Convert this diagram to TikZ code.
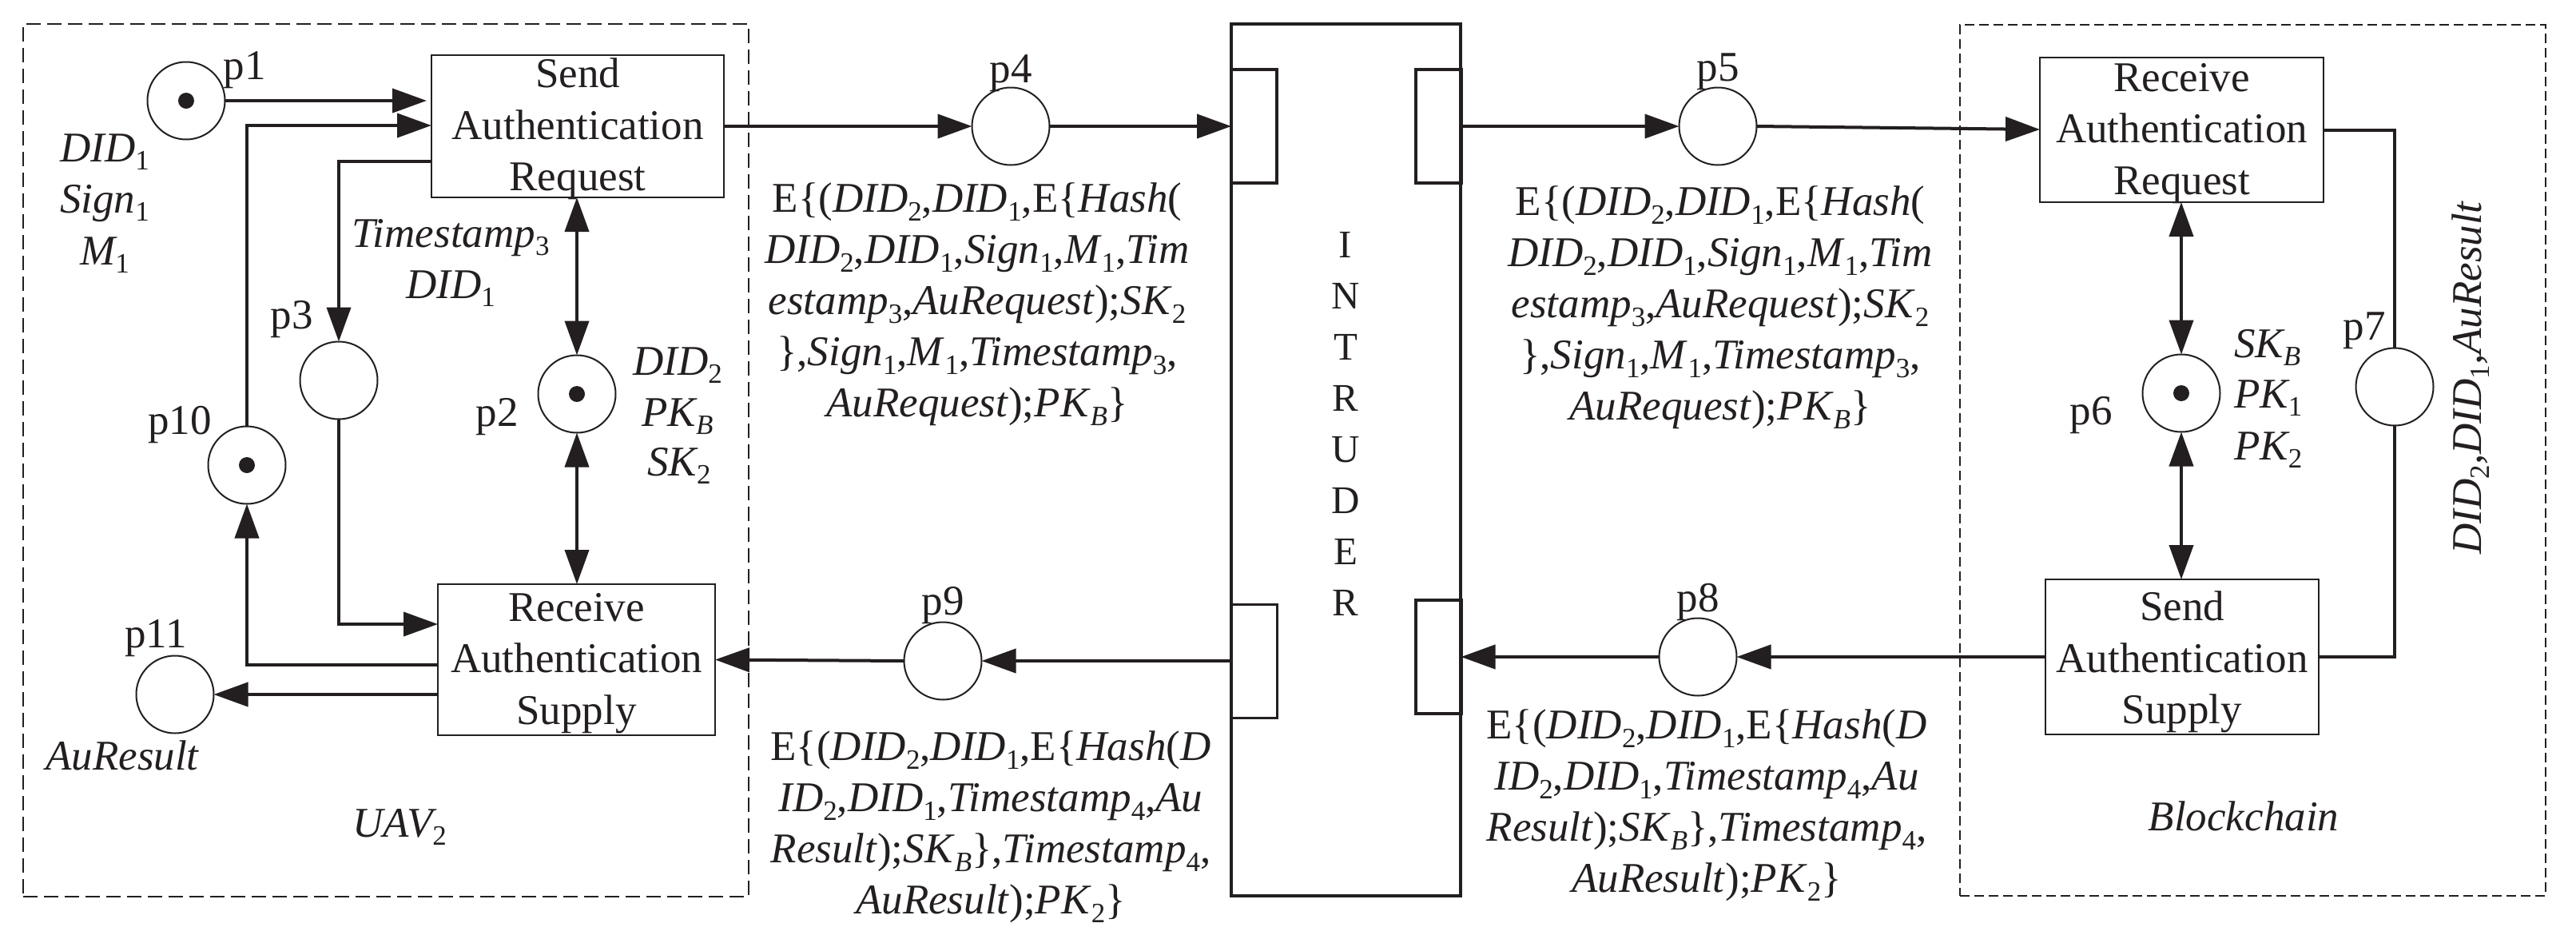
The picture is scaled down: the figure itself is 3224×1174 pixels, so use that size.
\documentclass[tikz,border=0pt]{standalone}
\usepackage{fontspec}
\setmainfont{Liberation Serif}
\usetikzlibrary{arrows.meta}
\definecolor{ink}{HTML}{231F20}
\newcommand\subd[1]{\raisebox{-0.2em}{\fontsize{17.5}{17.5}\selectfont\upshape #1}}
\newcommand\subi[1]{\raisebox{-0.2em}{\fontsize{17.5}{17.5}\selectfont\itshape #1}}
\newcommand\vi[1]{\textit{#1}}
\newcommand\msgA{E\{(\vi{DID}\subd{2},\vi{DID}\subd{1},E\{\vi{Hash}(\\
\vi{DID}\subd{2},\vi{DID}\subd{1},\vi{Sign}\subd{1},\vi{M}\subd{1},\vi{Tim}\\
\vi{estamp}\subd{3},\vi{AuRequest});\vi{SK}\subd{2}\\
\},\vi{Sign}\subd{1},\vi{M}\subd{1},\vi{Timestamp}\subd{3},\\
\vi{AuRequest});\vi{PK}\subi{B}\}}
\newcommand\msgB{E\{(\vi{DID}\subd{2},\vi{DID}\subd{1},E\{\vi{Hash}(\vi{D}\\
\vi{ID}\subd{2},\vi{DID}\subd{1},\vi{Timestamp}\subd{4},\vi{Au}\\
\vi{Result});\vi{SK}\subi{B}\},\vi{Timestamp}\subd{4},\\
\vi{AuResult});\vi{PK}\subd{2}\}}
\tikzset{
  every node/.style={inner sep=0pt,outer sep=0pt,text=ink},
  txt/.style={font=\fontsize{26.5}{32}\selectfont,anchor=base},
  ital/.style={txt,font=\fontsize{26.5}{32}\selectfont\itshape},
  msg/.style={font=\fontsize{26.5}{32}\selectfont,align=center,anchor=north},
  place/.style={draw=ink,circle,line width=1pt,minimum size=48.5pt},
  token/.style={circle,fill=ink,minimum size=10pt},
  tbox/.style={draw=ink,line width=1pt,align=center,inner ysep=-3pt,font=\fontsize{26.5}{32.25}\selectfont},
  conn/.style={draw=ink,line width=2pt},
  arr/.style={conn,-{Triangle[length=21.5pt,width=15pt]}},
  darr/.style={conn,{Triangle[length=21.5pt,width=15pt]}-{Triangle[length=21.5pt,width=15pt]}},
  region/.style={draw=ink,line width=.8pt},
  brk/.style={draw=ink,minimum width=28.5pt,minimum height=71pt},
}
\newcommand\fl{\rule{0pt}{22pt}}
\begin{document}
\begin{tikzpicture}[x=.5pt,y=-.5pt]
\useasboundingbox (0,0) rectangle (3224,1174);
% regions
\node[region,dash pattern=on 9pt off 4pt,minimum width=454pt,minimum height=546pt] (uav) at (483,576) {};
\node[region,dash pattern=on 6pt off 3pt,minimum width=366.5pt,minimum height=545pt] (chain) at (2819.5,576) {};
% intruder
\node[draw=ink,line width=1.6pt,minimum width=143.5pt,minimum height=545.5pt] (intr) at (1684.5,575.5) {};
\node[brk,line width=2pt] (br1) at (1569.5,158) {};
\node[brk,line width=2pt] (br2) at (1800,158) {};
\node[brk,line width=1.5pt] (br3) at (1569.5,827) {};
\node[brk,line width=2pt] (br4) at (1800,822) {};
\node[font=\fontsize{24.5}{32}\selectfont,align=center] (intrtext) at (1684,530.5) {I\\N\\T\\R\\U\\D\\E\\R};
% transition boxes
\node[tbox,minimum width=183pt,minimum height=89pt] (box1) at (723,158) {\fl Send\\Authentication\\Request};
\node[tbox,minimum width=173.5pt,minimum height=94.5pt] (box2) at (721.5,825.5) {\fl Receive\\Authentication\\Supply};
\node[tbox,minimum width=177.5pt,minimum height=90.5pt] (box3) at (2730.5,162.5) {\fl Receive\\Authentication\\Request};
\node[tbox,minimum width=171pt,minimum height=97pt] (box4) at (2731,822) {\rule{0pt}{25pt}Send\\Authentication\\Supply};
% places
\node[place] (p1) at (233,126) {};
\node[place] (p2) at (722,493) {};
\node[place] (p3) at (424,476) {};
\node[place] (p4) at (1265,158) {};
\node[place] (p5) at (2150,158) {};
\node[place] (p6) at (2730,492) {};
\node[place] (p7) at (2997,484) {};
\node[place] (p8) at (2125,822) {};
\node[place] (p9) at (1180,827) {};
\node[place] (p10) at (309,582) {};
\node[place] (p11) at (219,869) {};
\node[token] (t1) at (p1) {};
\node[token] (t2) at (p2) {};
\node[token] (t6) at (p6) {};
\node[token] (t10) at (p10) {};
% connector ends on box sides
\coordinate (b1in) at (540,157);
\coordinate (b1out) at (540,202);
\coordinate (b2in) at (548,781);
\coordinate (b2a) at (548,832);
\coordinate (b2b) at (548,869);
\coordinate (b3in) at (2553,162);
% connectors
\draw[arr,shorten >=3pt] (p1.east) -- (p1.east -| box1.west);
\draw[arr] (p10.north) |- (b1in);
\draw[arr] (b1out) -| (p3.north);
\draw[arr] (p3.south) |- (b2in);
\draw[arr] (b2a) -| (p10.south);
\draw[arr] (b2b) -- (p11.east);
\draw[darr] (p2.north) -- (p2.north |- box1.south);
\draw[darr] (p2.south) -- (p2.south |- box2.north);
\draw[arr] (box1.east |- p4.west) -- (p4.west);
\draw[arr] (p4.east) -- (br1.west);
\draw[arr] (br2.east) -- (p5.west);
\draw[arr] (p5.east) -- (b3in);
\draw[darr] (p6.north) -- (p6.north |- box3.south);
\draw[darr] (p6.south) -- (p6.south |- box4.north);
\draw[conn] (box3.east) -| (p7.north);
\draw[conn] (p7.south) |- (box4.east);
\draw[arr] (box4.west) -- (p8.east);
\draw[arr] (p8.west) -- (br4.east);
\draw[arr] (br3.west) -- (p9.east);
\draw[arr] (p9.west) -- (box2.east);
% place labels
\node[txt] (lp1) at (306,99) {p1};
\node[txt] (lp2) at (622,533) {p2};
\node[txt] (lp3) at (365,411) {p3};
\node[txt] (lp4) at (1265,103) {p4};
\node[txt] (lp5) at (2150,101) {p5};
\node[txt] (lp6) at (2617,531) {p6};
\node[txt] (lp7) at (2959,425) {p7};
\node[txt] (lp8) at (2125,765) {p8};
\node[txt] (lp9) at (1180,769) {p9};
\node[txt] (lp10) at (225,543) {p10};
\node[txt] (lp11) at (195,810) {p11};
% token labels
\node[ital] (a1) at (131,202) {DID\subd{1}};
\node[ital] (a2) at (131,266) {Sign\subd{1}};
\node[ital] (a3) at (131,331) {M\subd{1}};
\node[ital] (a4) at (564,309) {Timestamp\subd{3}};
\node[ital] (a5) at (564,373) {DID\subd{1}};
\node[ital] (a6) at (848,469) {DID\subd{2}};
\node[ital] (a7) at (848,533) {PK\subi{B}};
\node[ital] (a8) at (850,595) {SK\subd{2}};
\node[ital] (a9) at (153,963) {AuResult};
\node[ital] (uavname) at (500,1047) {UAV\subd{2}};
\node[ital,anchor=base west] (a10) at (2796,447) {SK\subi{B}};
\node[ital,anchor=base west] (a11) at (2796,510) {PK\subd{1}};
\node[ital,anchor=base west] (a12) at (2796,575) {PK\subd{2}};
\node[ital] (chainname) at (2808,1039) {Blockchain};
\node[ital,rotate=90] (a13) at (3105,473) {DID\subd{2},DID\subd{1},AuResult};
% messages
\node[msg] (m1) at (1223,229) {\msgA};
\node[msg] (m2) at (2153,233) {\msgA};
\node[msg] (m3) at (1240,915) {\msgB};
\node[msg] (m4) at (2136,888) {\msgB};
\end{tikzpicture}
\end{document}
